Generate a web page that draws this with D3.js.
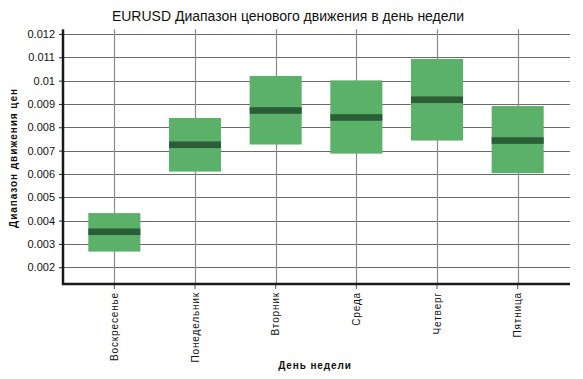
<!DOCTYPE html>
<html><head><meta charset="utf-8">
<script src="https://cdn.jsdelivr.net/npm/d3@7"></script>
<style>body{margin:0;background:#fff}svg{display:block}</style>
</head><body>
<svg id="c" width="583" height="379"></svg>
<script>
const categories = ["Воскресенье","Понедельник","Вторник","Среда","Четверг","Пятница"];
const lower  = [0.00267, 0.00610, 0.00726, 0.00687, 0.00743, 0.00603];
const median = [0.00352, 0.00725, 0.00872, 0.00842, 0.00918, 0.00743];
const upper  = [0.00432, 0.00840, 0.01020, 0.01001, 0.01093, 0.00891];
const yTicks = [0.002,0.003,0.004,0.005,0.006,0.007,0.008,0.009,0.010,0.011,0.012];
const yTickLabels = ["0.002","0.003","0.004","0.005","0.006","0.007","0.008","0.009","0.01","0.011","0.012"];
const title = "EURUSD Диапазон ценового движения в день недели";
const yTitle = "Диапазон движения цен";
const xTitle = "День недели";

const svg = d3.select("#c");
const L = 63, R = 570, T = 29.3, B = 284;
const x = d3.scaleBand().domain(categories).range([74, 558]).paddingInner(0.355).paddingOuter(0.1775);
const y = d3.scaleLinear().domain([0.00128, 0.0122]).range([B, T]);
const font = "Liberation Sans, Arial, sans-serif";

// horizontal gridlines
svg.append("g").selectAll("line").data(yTicks).join("line")
  .attr("x1", L).attr("x2", R).attr("y1", d => Math.round(y(d)) + 0.5).attr("y2", d => Math.round(y(d)) + 0.5)
  .attr("stroke", "#6a6a6a").attr("stroke-width", 1);
// vertical gridlines
svg.append("g").selectAll("line").data(categories).join("line")
  .attr("x1", d => Math.round(x(d) + x.bandwidth()/2) + 0.5).attr("x2", d => Math.round(x(d) + x.bandwidth()/2) + 0.5)
  .attr("y1", T).attr("y2", B)
  .attr("stroke", "#8a8a8a").attr("stroke-width", 1.2);

// boxes
const idx = d3.range(categories.length);
svg.append("g").selectAll("rect").data(idx).join("rect")
  .attr("x", i => x(categories[i])).attr("width", x.bandwidth())
  .attr("y", i => y(upper[i])).attr("height", i => y(lower[i]) - y(upper[i]))
  .attr("fill", "#5bb06a");
svg.append("g").selectAll("rect").data(idx).join("rect")
  .attr("x", i => x(categories[i])).attr("width", x.bandwidth())
  .attr("y", i => y(median[i]) - 3.3).attr("height", 6.6)
  .attr("fill", "#2b5e36");

// y axis
const yAxis = d3.axisLeft(y).tickValues(yTicks).tickFormat((d, i) => yTickLabels[i]).tickSize(4).tickPadding(4);
const gy = svg.append("g").attr("transform", `translate(${L},0)`).call(yAxis);
gy.select(".domain").remove();
gy.selectAll("line").attr("stroke", "#222");
gy.selectAll("text").attr("font-family", font).attr("font-size", 11).attr("fill", "#111");
svg.append("line").attr("x1", L).attr("x2", L).attr("y1", T).attr("y2", B + 1)
  .attr("stroke", "#1a1a1a").attr("stroke-width", 2.5);

// x axis
const xAxis = d3.axisBottom(x).tickSize(5).tickPadding(4);
const gx = svg.append("g").attr("transform", `translate(0,${B})`).call(xAxis);
gx.select(".domain").remove();
gx.selectAll("line").attr("stroke", "#555");
gx.selectAll("text").attr("font-family", font).attr("font-size", 10).attr("fill", "#111")
  .attr("letter-spacing", "0.85px")
  .attr("transform", "rotate(-90)").attr("text-anchor", "end")
  .attr("x", -8).attr("y", 0).attr("dy", "0.35em");
svg.append("line").attr("x1", L - 1).attr("x2", R).attr("y1", B).attr("y2", B)
  .attr("stroke", "#1a1a1a").attr("stroke-width", 2.5);

// titles
svg.append("text").attr("x", 288).attr("y", 21).attr("text-anchor", "middle")
  .attr("font-family", font).attr("font-size", 14).attr("fill", "#111").text(title);
svg.append("text").attr("transform", "translate(17,158) rotate(-90)").attr("text-anchor", "middle")
  .attr("font-family", font).attr("font-size", 10).attr("font-weight", "bold").attr("letter-spacing", "0.95px")
  .attr("fill", "#111").text(yTitle);
svg.append("text").attr("x", 315).attr("y", 369).attr("text-anchor", "middle")
  .attr("font-family", font).attr("font-size", 10).attr("font-weight", "bold").attr("letter-spacing", "0.9px")
  .attr("fill", "#111").text(xTitle);
</script>
</body></html>
